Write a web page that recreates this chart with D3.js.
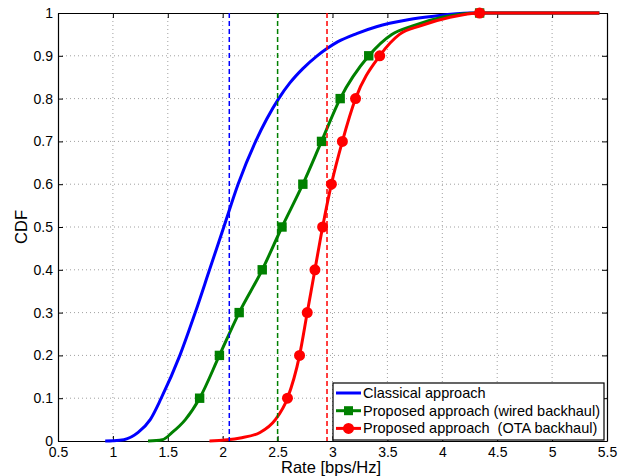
<!DOCTYPE html>
<html>
<head>
<meta charset="utf-8">
<script src="https://cdn.jsdelivr.net/npm/d3@7"></script>
<style>
  body { margin: 0; background: #fff; }
  text { font-family: "Liberation Sans", Arial, sans-serif; fill: #000; }
</style>
</head>
<body>
<svg id="chart" width="629" height="476"></svg>
<script>
// tick values
const xTicks = [0.5, 1, 1.5, 2, 2.5, 3, 3.5, 4, 4.5, 5, 5.5]
const yTicks = [0, 0.1, 0.2, 0.3, 0.4, 0.5, 0.6, 0.7, 0.8, 0.9, 1]

// CDF curves, [rate, cdf]
const classicalCurve = [
    [0.93, 0], [1.0, 0.0005], [1.1, 0.003], [1.23, 0.02], [1.34, 0.05], [1.44, 0.1],
    [1.61, 0.2], [1.75, 0.3], [1.88, 0.4], [2.01, 0.5], [2.14, 0.6], [2.30, 0.7],
    [2.51, 0.8], [2.61, 0.836], [2.73, 0.87], [2.86, 0.9], [2.95, 0.917],
    [3.05, 0.933], [3.22, 0.952], [3.40, 0.968], [3.52, 0.976], [3.70, 0.985],
    [3.90, 0.992], [4.25, 1.0], [5.43, 1.0]
]
const wiredCurve = [
    [1.32, 0], [1.45, 0.003], [1.54, 0.02], [1.66, 0.05], [1.79, 0.1], [1.97, 0.2],
    [2.15, 0.3], [2.36, 0.4], [2.54, 0.5], [2.73, 0.6], [2.90, 0.7], [3.07, 0.8],
    [3.33, 0.9], [3.54, 0.95], [3.73, 0.97], [4.0, 0.99], [4.34, 1.0], [5.43, 1.0]
]
const otaCurve = [
    [1.88, 0], [2.16, 0.007], [2.34, 0.02], [2.48, 0.05], [2.59, 0.1], [2.70, 0.2],
    [2.77, 0.3], [2.84, 0.4], [2.91, 0.5], [2.99, 0.6], [3.09, 0.7], [3.21, 0.8],
    [3.43, 0.9], [3.61, 0.95], [3.80, 0.97], [4.07, 0.99], [4.34, 1.0], [5.43, 1.0]
]

// marker positions
const markerLevels = [0.1, 0.2, 0.3, 0.4, 0.5, 0.6, 0.7, 0.8, 0.9, 1.0]
const wiredMarkerRates = [1.79, 1.97, 2.15, 2.36, 2.54, 2.73, 2.90, 3.07, 3.33, 4.34]
const otaMarkerRates = [2.59, 2.70, 2.77, 2.84, 2.91, 2.99, 3.09, 3.21, 3.43, 4.34]

// mean rates (dashed verticals)
const meanRates = [2.06, 2.50, 2.95]

const seriesNames = [
    'Classical approach',
    'Proposed approach (wired backhaul)',
    'Proposed approach  (OTA backhaul)'
]
const seriesColors = ['#0000ff', '#008000', '#ff0000']

const svg = d3.select('#chart')

const margin = {left: 58, top: 13, right: 22, bottom: 35}
const width = +svg.attr('width') - margin.left - margin.right
const height = +svg.attr('height') - margin.top - margin.bottom

const x = d3.scaleLinear().domain([0.5, 5.5]).range([0, width])
const y = d3.scaleLinear().domain([0, 1]).range([height, 0])

const g = svg.append('g')
    .attr('transform', `translate(${margin.left},${margin.top})`)

// dotted grid
g.append('g')
    .selectAll('line')
    .data(xTicks.slice(1, -1))
    .join('line')
        .attr('x1', d => x(d)).attr('x2', d => x(d))
        .attr('y1', 0).attr('y2', height)
        .attr('stroke', '#a0a0a0')
        .attr('stroke-width', 1)
        .attr('stroke-dasharray', '1,3')

g.append('g')
    .selectAll('line')
    .data(yTicks.slice(1, -1))
    .join('line')
        .attr('x1', 0).attr('x2', width)
        .attr('y1', d => y(d)).attr('y2', d => y(d))
        .attr('stroke', '#a0a0a0')
        .attr('stroke-width', 1)
        .attr('stroke-dasharray', '1,3')

// axes with inward ticks on all four sides
g.append('g')
    .attr('transform', `translate(0,${height})`)
    .call(d3.axisBottom(x).tickValues(xTicks).tickSizeInner(-5).tickSizeOuter(0)
        .tickPadding(6).tickFormat(d3.format('')))
g.append('g')
    .call(d3.axisLeft(y).tickValues(yTicks).tickSizeInner(-5).tickSizeOuter(0)
        .tickPadding(5).tickFormat(d3.format('')))
g.append('g')
    .call(d3.axisTop(x).tickValues(xTicks).tickSizeInner(-5).tickSizeOuter(0).tickFormat(''))
g.append('g')
    .attr('transform', `translate(${width},0)`)
    .call(d3.axisRight(y).tickValues(yTicks).tickSizeInner(-5).tickSizeOuter(0).tickFormat(''))

g.selectAll('.domain').attr('stroke', '#000').attr('stroke-width', 1.2)
g.selectAll('.tick line').attr('stroke', '#000')
g.selectAll('.tick text')
    .style('font-family', '"Liberation Sans", Arial, sans-serif')
    .style('font-size', '14px')
    .attr('fill', '#000')

// curves
const line = d3.line()
    .curve(d3.curveMonotoneX)
    .x(d => x(d[0]))
    .y(d => y(d[1]))

const curves = [classicalCurve, wiredCurve, otaCurve]
g.append('g')
    .selectAll('path')
    .data(curves)
    .join('path')
        .attr('d', line)
        .attr('fill', 'none')
        .attr('stroke', (d, i) => seriesColors[i])
        .attr('stroke-width', 3)
        .attr('stroke-linejoin', 'round')

// markers
g.append('g')
    .selectAll('rect')
    .data(wiredMarkerRates.map((r, i) => [r, markerLevels[i]]))
    .join('rect')
        .attr('x', d => x(d[0]) - 4.7)
        .attr('y', d => y(d[1]) - 4.7)
        .attr('width', 9.4)
        .attr('height', 9.4)
        .attr('fill', seriesColors[1])

g.append('g')
    .selectAll('circle')
    .data(otaMarkerRates.map((r, i) => [r, markerLevels[i]]))
    .join('circle')
        .attr('cx', d => x(d[0]))
        .attr('cy', d => y(d[1]))
        .attr('r', 5.5)
        .attr('fill', seriesColors[2])

// dashed mean lines
g.append('g')
    .selectAll('line')
    .data(meanRates)
    .join('line')
        .attr('x1', d => x(d)).attr('x2', d => x(d))
        .attr('y1', 0).attr('y2', height)
        .attr('stroke', (d, i) => seriesColors[i])
        .attr('stroke-width', 1.5)
        .attr('stroke-dasharray', '5,3')

// axis labels
svg.append('text')
    .attr('x', 331)
    .attr('y', 473)
    .attr('text-anchor', 'middle')
    .style('font-size', '16.5px')
    .text('Rate [bps/Hz]')

svg.append('text')
    .attr('transform', `translate(27,${margin.top + height / 2}) rotate(-90)`)
    .attr('text-anchor', 'middle')
    .style('font-size', '16.5px')
    .text('CDF')

// legend
const legend = svg.append('g')
    .attr('transform', 'translate(333,383)')

legend.append('rect')
    .attr('width', 271)
    .attr('height', 57)
    .attr('fill', '#fff')
    .attr('stroke', '#000')
    .attr('stroke-width', 1.2)

const item = legend.selectAll('.item')
    .data(seriesNames)
    .join('g')
        .attr('class', 'item')
        .attr('transform', (d, i) => `translate(0,${10 + i * 17.7})`)

item.append('line')
    .attr('x1', 3).attr('x2', 28)
    .attr('stroke', (d, i) => seriesColors[i])
    .attr('stroke-width', 3)

item.filter((d, i) => i === 1).append('rect')
    .attr('x', 11).attr('y', -4.5).attr('width', 9).attr('height', 9)
    .attr('fill', seriesColors[1])

item.filter((d, i) => i === 2).append('circle')
    .attr('cx', 15.5).attr('r', 5.5)
    .attr('fill', seriesColors[2])

item.append('text')
    .attr('x', 30)
    .attr('y', 5)
    .attr('xml:space', 'preserve')
    .style('white-space', 'pre')
    .style('font-size', '14.5px')
    .text(d => d)
</script>
</body>
</html>
